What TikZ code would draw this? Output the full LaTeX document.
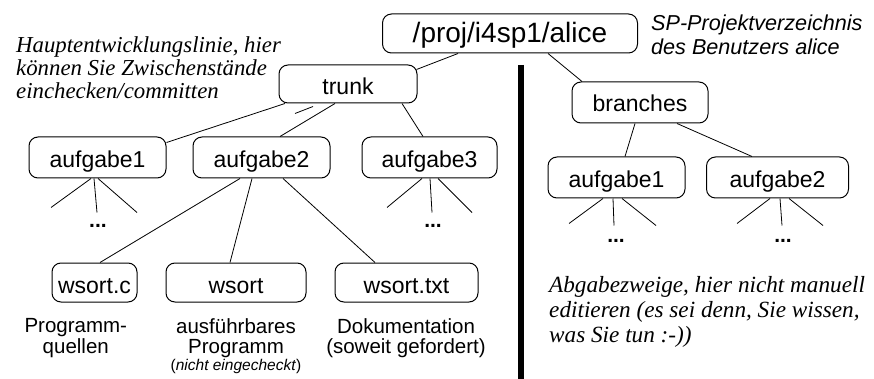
\documentclass[tikz,border=0pt]{standalone}
\usepackage{fontspec}
\setmainfont{Liberation Serif}
\setsansfont{Liberation Sans}
\usetikzlibrary{calc}
\begin{document}
\begin{tikzpicture}[x=1pt,y=-1pt,
  box/.style={draw, line width=1pt, rounded corners=9pt, inner sep=0pt,
    minimum height=40pt, text height=21pt, text depth=0pt,
    font=\sffamily\fontsize{23}{23}\selectfont},
  conn/.style={line width=0.8pt},
  dotsn/.style={font=\sffamily\bfseries\fontsize{21}{21}\selectfont, inner sep=0pt},
  lbl/.style={font=\sffamily\fontsize{20.5}{20.3}\selectfont, align=center, inner sep=0pt, anchor=north},
  note/.style={font=\itshape\fontsize{22.8}{23}\selectfont, align=left, inner sep=0pt, anchor=north west},
]
\useasboundingbox (0,0) rectangle (874,379);

% nodes
\node[box, minimum width=255pt, minimum height=39pt, text height=18.5pt,
      font=\sffamily\fontsize{28}{28}\selectfont] (root) at (510,33.5) {/proj/i4sp1/alice};
\node[box, minimum width=138pt, minimum height=38pt] (trunk) at (348,84) {trunk};
\node[box, minimum width=137pt, minimum height=41pt] (a1) at (97.5,157.5) {aufgabe1};
\node[box, minimum width=137pt, minimum height=41pt] (a2) at (261.5,157.5) {aufgabe2};
\node[box, minimum width=135pt, minimum height=41pt] (a3) at (429.5,157.5) {aufgabe3};
\node[box, minimum width=136pt, minimum height=41pt, text height=19pt] (br) at (640,102.5) {branches};
\node[box, minimum width=137pt, minimum height=41pt] (b1) at (616.5,177.5) {aufgabe1};
\node[box, minimum width=142pt, minimum height=41pt] (b2) at (777.5,177.5) {aufgabe2};
\node[box, minimum width=85pt, minimum height=39pt] (wc) at (94.5,282.5) {wsort.c};
\node[box, minimum width=140pt, minimum height=39pt] (ws) at (236,282.5) {wsort};
\node[box, minimum width=143pt, minimum height=39pt] (wt) at (406.5,282.5) {wsort.txt};

% connectors
\draw[conn] ($(root.south)+(-52,0)$) -- ($(trunk.north east)+(-1,5)$);
\draw[conn] ($(root.south)+(38,0)$) -- ($(br.north)+(-58,0)$);
\draw[conn] ($(trunk.south)+(-63,0)$) -- ($(a1.north east)+(0,6)$);
\draw[conn] ($(trunk.south)+(-13,0)$) -- ($(a2.north)+(18.5,0)$);
\draw[conn] ($(trunk.south)+(-35,3)$) -- ++(-18,7);
\draw[conn] ($(trunk.south)+(54,0)$) -- ($(a3.north)+(-6.5,0)$);
\draw[conn] ($(br.south)+(-5,0)$) -- ($(b1.north)+(8.5,0)$);
\draw[conn] ($(br.south)+(37,0)$) -- ($(b2.north)+(-25.5,0)$);
\draw[conn] ($(a2.south)+(-21.5,0)$) -- ($(wc.north)+(5.5,0)$);
\draw[conn] ($(a2.south)+(-9.5,0)$) -- ($(ws.north)+(-6,0)$);
\draw[conn] ($(a2.south)+(21.5,0)$) -- ($(wt.north)+(-31.5,0)$);

% fans
\draw[conn] ($(a1.south)+(-6.5,0)$) -- ++(-40,29);
\draw[conn] ($(a1.south)+(-3.5,0)$) -- ++(3,34);
\draw[conn] ($(a1.south)+(0.5,0)$) -- ++(39,34);
\draw[conn] ($(a3.south)+(-7.5,0)$) -- ++(-35,29);
\draw[conn] ($(a3.south)+(0.5,0)$) -- ++(2,34);
\draw[conn] ($(a3.south)+(8.5,0)$) -- ++(34,34);
\draw[conn] ($(b1.south)+(-13.5,0)$) -- ++(-34,25);
\draw[conn] ($(b1.south)+(-3.5,0)$) -- ++(1,27);
\draw[conn] ($(b1.south)+(5.5,0)$) -- ++(34,27);
\draw[conn] ($(b2.south)+(-7.5,0)$) -- ++(-33,25);
\draw[conn] ($(b2.south)+(2.5,0)$) -- ++(2,27);
\draw[conn] ($(b2.south)+(11.5,0)$) -- ++(34,27);

\node[dotsn] (d1) at (98,226) {...};
\node[dotsn] (d3) at (433,226) {...};
\node[dotsn] (d4) at (616,241) {...};
\node[dotsn] (d5) at (783,241) {...};

% separator
\draw[line width=5.5pt] (521,65) coordinate (sepTop) -- (521,379) coordinate (sepBot);

% notes
\node[note] (n1) at (16,36) {Hauptentwicklungslinie, hier\\können Sie Zwischenstände\\einchecken/committen};
\node[note, font=\sffamily\itshape\fontsize{21.6}{23.5}\selectfont] (n2) at (651,15) {SP-Projektverzeichnis\\des Benutzers alice};
\node[note, font=\itshape\fontsize{23.2}{24.7}\selectfont] (n3) at (549,276.5) {Abgabezweige, hier nicht manuell\\editieren (es sei denn, Sie wissen,\\was Sie tun :-))};

% labels
\node[lbl] (l1) at (75.8,318.5) {Programm-\\quellen};
\node[lbl] (l2) at (236,318.5) {ausführbares\\Programm};
\node[lbl, font=\sffamily\fontsize{15.5}{16}\selectfont] (l2b) at (236,359.5) {(\textit{nicht eingecheckt})};
\node[lbl] (l3) at (406,318.5) {Dokumentation\\(soweit gefordert)};
\end{tikzpicture}
\end{document}
